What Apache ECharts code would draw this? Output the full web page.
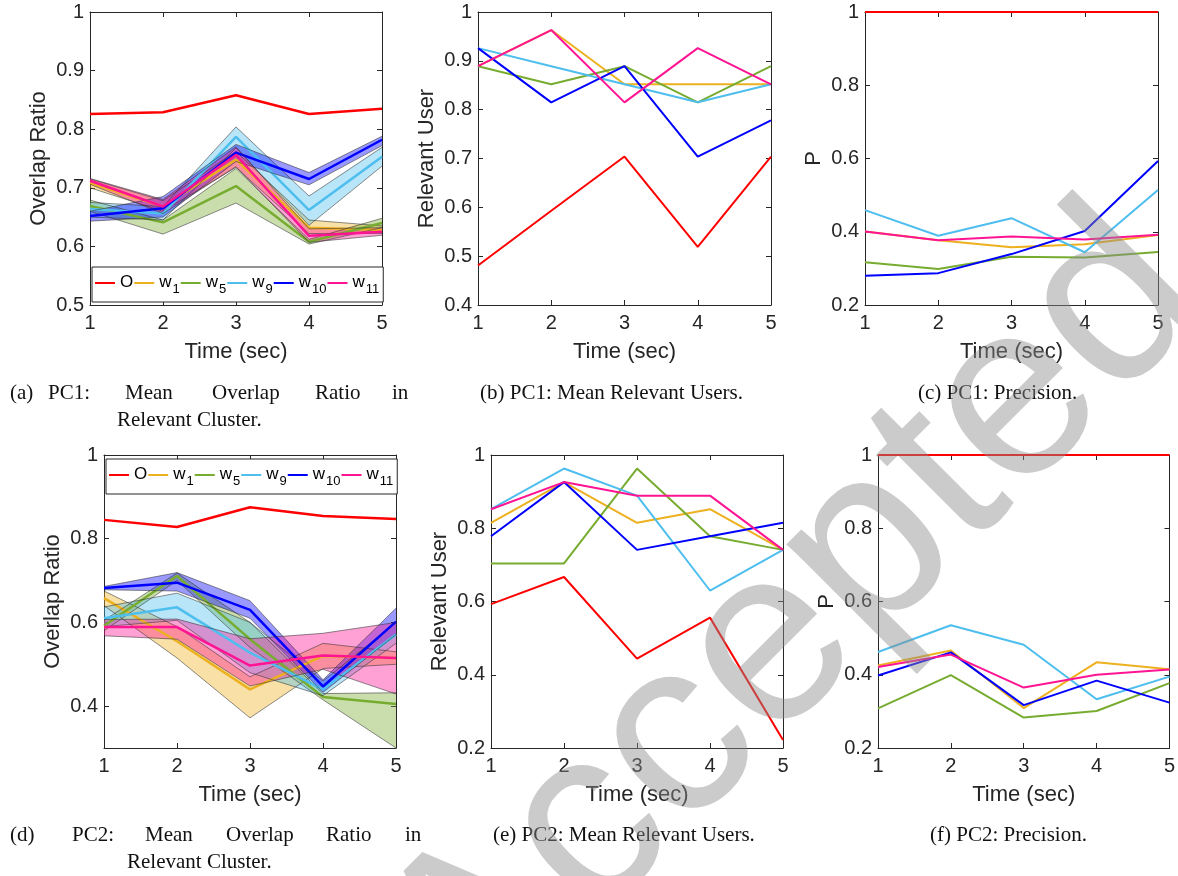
<!DOCTYPE html>
<html><head><meta charset="utf-8">
<script src="https://cdn.jsdelivr.net/npm/echarts@6/dist/echarts.min.js"></script>
<style>html,body{margin:0;padding:0;background:#fff}#c{width:1178px;height:876px}</style>
</head><body><div id="c"></div>
<script>
// ---------------- DATA ----------------
const timeTicks = ['1', '2', '3', '4', '5'];
const seriesNames = ['O', 'w1', 'w5', 'w9', 'w10', 'w11'];

// (a) PC1 mean overlap ratio (rows follow seriesNames)
const pc1OverlapMean = [
  [0.826, 0.829, 0.858, 0.826, 0.835],
  [0.708, 0.668, 0.748, 0.632, 0.628],
  [0.669, 0.641, 0.703, 0.608, 0.640],
  [0.664, 0.656, 0.787, 0.662, 0.753],
  [0.652, 0.665, 0.760, 0.715, 0.782],
  [0.712, 0.668, 0.756, 0.618, 0.625]
];
const pc1OverlapLow = [
  null,
  [0.700, 0.660, 0.735, 0.622, 0.622],
  [0.660, 0.621, 0.674, 0.604, 0.632],
  [0.650, 0.645, 0.768, 0.636, 0.737],
  [0.643, 0.650, 0.745, 0.705, 0.772],
  [0.706, 0.656, 0.736, 0.607, 0.619]
];
const pc1OverlapHigh = [
  null,
  [0.715, 0.678, 0.762, 0.645, 0.635],
  [0.679, 0.645, 0.733, 0.612, 0.648],
  [0.675, 0.668, 0.804, 0.686, 0.769],
  [0.660, 0.685, 0.774, 0.726, 0.788],
  [0.716, 0.680, 0.770, 0.630, 0.632]
];
// (b) PC1 relevant users
const pc1Relevant = [
  [0.481, 0.593, 0.704, 0.519, 0.704],
  [0.889, 0.963, 0.852, 0.852, 0.852],
  [0.889, 0.852, 0.889, 0.815, 0.889],
  [0.926, 0.889, 0.852, 0.815, 0.852],
  [0.926, 0.815, 0.889, 0.704, 0.778],
  [0.889, 0.963, 0.815, 0.926, 0.852]
];
// (c) PC1 precision
const pc1Precision = [
  [1, 1, 1, 1, 1],
  [0.401, 0.377, 0.358, 0.366, 0.391],
  [0.317, 0.298, 0.332, 0.330, 0.345],
  [0.459, 0.389, 0.437, 0.344, 0.514],
  [0.280, 0.287, 0.339, 0.402, 0.593],
  [0.401, 0.377, 0.387, 0.379, 0.392]
];
// (d) PC2 mean overlap ratio
const pc2OverlapMean = [
  [0.845, 0.828, 0.875, 0.854, 0.847],
  [0.658, 0.555, 0.440, 0.520, 0.515],
  [0.592, 0.711, 0.560, 0.422, 0.405],
  [0.610, 0.636, 0.528, 0.440, 0.571],
  [0.682, 0.695, 0.630, 0.447, 0.602],
  [0.589, 0.589, 0.497, 0.521, 0.515]
];
const pc2OverlapLow = [
  null,
  [0.640, 0.515, 0.372, 0.490, 0.500],
  [0.580, 0.700, 0.540, 0.415, 0.300],
  [0.590, 0.605, 0.480, 0.425, 0.550],
  [0.678, 0.675, 0.610, 0.433, 0.571],
  [0.568, 0.560, 0.448, 0.488, 0.429]
];
const pc2OverlapHigh = [
  null,
  [0.675, 0.590, 0.470, 0.550, 0.530],
  [0.605, 0.718, 0.600, 0.430, 0.432],
  [0.637, 0.670, 0.600, 0.460, 0.600],
  [0.686, 0.719, 0.652, 0.463, 0.634],
  [0.607, 0.608, 0.561, 0.574, 0.600]
];
// (e) PC2 relevant users
const pc2Relevant = [
  [0.593, 0.667, 0.444, 0.556, 0.222],
  [0.815, 0.926, 0.815, 0.852, 0.741],
  [0.704, 0.704, 0.963, 0.778, 0.741],
  [0.852, 0.963, 0.889, 0.630, 0.741],
  [0.778, 0.926, 0.741, 0.778, 0.815],
  [0.852, 0.926, 0.889, 0.889, 0.741]
];
// (f) PC2 precision
const pc2Precision = [
  [1, 1, 1, 1, 1],
  [0.425, 0.466, 0.309, 0.434, 0.415],
  [0.308, 0.399, 0.283, 0.301, 0.377],
  [0.462, 0.535, 0.482, 0.333, 0.395],
  [0.398, 0.461, 0.317, 0.384, 0.324],
  [0.421, 0.455, 0.365, 0.400, 0.414]
];
const yTicksA = [0.5, 0.6, 0.7, 0.8, 0.9, 1];
const yTicksB = [0.4, 0.5, 0.6, 0.7, 0.8, 0.9, 1];
const yTicksP = [0.2, 0.4, 0.6, 0.8, 1];
const yTicksD = [0.4, 0.6, 0.8, 1];

// ---------------- STYLE / LAYOUT ----------------
const seriesColors = ['#FF0000', '#EDB120', '#77AC30', '#4DBEEE', '#0000FF', '#FF1493'];
const AX = '#262626';
const SANS = 'Liberation Sans, Arial, sans-serif';
const SERIF = 'Liberation Serif, Times New Roman, serif';

const panels = [
  { grid: { left: 90, top: 12, width: 292, height: 293 }, ymin: 0.5, ymax: 1, ticks: yTicksA, yname: 'Overlap Ratio', mean: pc1OverlapMean, lo: pc1OverlapLow, hi: pc1OverlapHigh, lw: 2.5, legend: { left: 92, top: 267 } },
  { grid: { left: 478, top: 12, width: 293, height: 293 }, ymin: 0.4, ymax: 1, ticks: yTicksB, yname: 'Relevant User', mean: pc1Relevant, lw: 2 },
  { grid: { left: 865, top: 12, width: 293, height: 293 }, ymin: 0.2, ymax: 1, ticks: yTicksP, yname: 'P', mean: pc1Precision, lw: 2 },
  { grid: { left: 104, top: 455, width: 292, height: 293 }, ymin: 0.3, ymax: 1, ticks: yTicksD, yname: 'Overlap Ratio', mean: pc2OverlapMean, lo: pc2OverlapLow, hi: pc2OverlapHigh, lw: 2.5, legend: { left: 106, top: 459 } },
  { grid: { left: 491, top: 455, width: 292, height: 293 }, ymin: 0.2, ymax: 1, ticks: yTicksP, yname: 'Relevant User', mean: pc2Relevant, lw: 2 },
  { grid: { left: 878, top: 455, width: 293, height: 293 }, ymin: 0.2, ymax: 1, ticks: yTicksP, yname: 'P', mean: pc2Precision, lw: 2 }
];

function hexA(hex, a) {
  const n = parseInt(hex.slice(1), 16);
  return 'rgba(' + (n >> 16 & 255) + ',' + (n >> 8 & 255) + ',' + (n & 255) + ',' + a + ')';
}

const grids = [], xAxes = [], yAxes = [], series = [], legends = [];
panels.forEach((p, pi) => {
  grids.push(Object.assign({ containLabel: false }, p.grid));
  const tickStyle = { show: true, inside: true, length: 5, lineStyle: { color: AX, width: 1 } };
  const lineStyle = { show: true, onZero: false, lineStyle: { color: AX, width: 1 } };
  xAxes.push({
    type: 'category', data: timeTicks, boundaryGap: false, gridIndex: pi, position: 'bottom',
    axisLine: lineStyle, axisTick: Object.assign({ interval: 0, alignWithLabel: true }, tickStyle), splitLine: { show: false },
    axisLabel: { interval: 0, fontSize: 20, color: AX, fontFamily: SANS, margin: 8 },
    name: 'Time (sec)', nameLocation: 'middle', nameGap: 36,
    nameTextStyle: { fontSize: 22, color: AX, fontFamily: SANS }
  });
  xAxes.push({
    type: 'category', data: timeTicks, boundaryGap: false, gridIndex: pi, position: 'top',
    axisLine: lineStyle, axisTick: Object.assign({ interval: 0, alignWithLabel: true }, tickStyle), splitLine: { show: false },
    axisLabel: { show: false }
  });
  yAxes.push({
    type: 'value', gridIndex: pi, min: p.ymin, max: p.ymax, interval: 0.1, position: 'left',
    axisLine: lineStyle, axisTick: Object.assign({ customValues: p.ticks }, tickStyle), splitLine: { show: false },
    axisLabel: { customValues: p.ticks, fontSize: 20, color: AX, fontFamily: SANS, margin: 6, showMinLabel: true, showMaxLabel: true },
    name: p.yname, nameLocation: 'middle', nameGap: 40, nameRotate: 90,
    nameTextStyle: { fontSize: 22, color: AX, fontFamily: SANS }
  });
  yAxes.push({
    type: 'value', gridIndex: pi, min: p.ymin, max: p.ymax, interval: 0.1, position: 'right',
    axisLine: lineStyle, axisTick: Object.assign({ customValues: p.ticks }, tickStyle), splitLine: { show: false },
    axisLabel: { show: false }
  });
  const xi = pi * 2, yi = pi * 2;
  seriesNames.forEach((name, si) => {
    const col = seriesColors[si];
    if (p.lo && p.lo[si]) {
      const stackId = 'band' + pi + '_' + si;
      series.push({
        name: name + ' band-lo', type: 'line', xAxisIndex: xi, yAxisIndex: yi, stack: stackId,
        data: p.lo[si].slice(), symbol: 'none', silent: true, clip: false,
        lineStyle: { color: '#333', width: 0.7, opacity: 0.8 }
      });
      series.push({
        name: name + ' band-hi', type: 'line', xAxisIndex: xi, yAxisIndex: yi, stack: stackId,
        data: p.hi[si].map((h, k) => +(h - p.lo[si][k]).toFixed(4)), symbol: 'none', silent: true, clip: false,
        lineStyle: { color: '#333', width: 0.7, opacity: 0.8 },
        areaStyle: { color: hexA(col, 0.4), opacity: 1 }
      });
    }
    series.push({
      name: name, type: 'line', xAxisIndex: xi, yAxisIndex: yi,
      data: p.mean[si].slice(), symbol: 'none', clip: false,
      lineStyle: { color: col, width: p.lw }, itemStyle: { color: col }
    });
  });
  if (p.legend) {
    legends.push({
      left: p.legend.left, top: p.legend.top, orient: 'horizontal', data: seriesNames,
      selectedMode: false, icon: 'rect', itemWidth: 20, itemHeight: 2, itemGap: 1,
      padding: [7, 4, 6, 3], borderColor: AX, borderWidth: 1, backgroundColor: '#fff',
      formatter: n => n === 'O' ? '{m|O}' : '{m|w}{s|' + n.slice(1) + '}',
      textStyle: {
        color: '#000', fontFamily: SANS,
        rich: {
          m: { fontSize: 17, fontFamily: SANS, color: '#000', verticalAlign: 'top', lineHeight: 18 },
          s: { fontSize: 13, fontFamily: SANS, color: '#000', verticalAlign: 'top', lineHeight: 14, padding: [9, 0, 0, 1] }
        }
      }
    });
  }
});

// captions
function cap(text, x, y) {
  return { type: 'text', x: x, y: y, style: { text: text, fontSize: 21, fontFamily: SERIF, fill: '#111', align: 'left', verticalAlign: 'middle' } };
}
const captions = [
  cap('(a)', 10, 393), cap('PC1:', 48, 393), cap('Mean', 125, 393), cap('Overlap', 212, 393), cap('Ratio', 315, 393), cap('in', 392, 393),
  cap('Relevant Cluster.', 117, 420),
  cap('(b) PC1: Mean Relevant Users.', 480, 393),
  cap('(c) PC1: Precision.', 918, 393),
  cap('(d)', 10, 835), cap('PC2:', 72, 835), cap('Mean', 145, 835), cap('Overlap', 226, 835), cap('Ratio', 326, 835), cap('in', 405, 835),
  cap('Relevant Cluster.', 127, 862),
  cap('(e) PC2: Mean Relevant Users.', 493, 835),
  cap('(f) PC2: Precision.', 930, 835)
];
const watermark = {
  type: 'text', x: 795, y: 625, rotation: Math.PI / 4, z: 1000, silent: true,
  style: { text: 'Accepted', fontSize: 250, fontFamily: SANS, fill: 'rgba(140,140,140,0.45)', align: 'center', verticalAlign: 'middle' }
};

const chart = echarts.init(document.getElementById('c'), null, { renderer: 'canvas' });
chart.setOption({
  backgroundColor: '#fff',
  animation: false,
  grid: grids, xAxis: xAxes, yAxis: yAxes, series: series, legend: legends,
  graphic: captions.concat([watermark])
});
</script></body></html>
